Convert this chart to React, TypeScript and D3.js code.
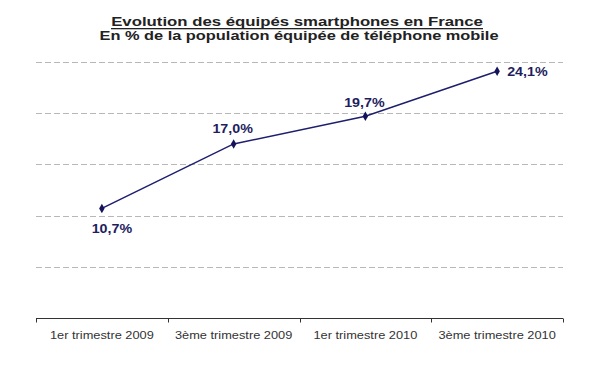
import React, { useEffect, useRef } from 'react';
import * as d3 from 'd3';

const categories = [
  '1er trimestre 2009',
  '3ème trimestre 2009',
  '1er trimestre 2010',
  '3ème trimestre 2010',
];
const values = [10.7, 17.0, 19.7, 24.1];
const valueLabels = ['10,7%', '17,0%', '19,7%', '24,1%'];
const gridTicks = [5, 10, 15, 20, 25];

const title = 'Evolution des équipés smartphones en France';
const subtitle = 'En % de la population équipée de téléphone mobile';

// where each value label sits relative to its point
const labelOffsets = [
  { dx: 10, dy: 25, anchor: 'middle' },
  { dx: -1, dy: -11, anchor: 'middle' },
  { dx: -1, dy: -9, anchor: 'middle' },
  { dx: 10, dy: 5, anchor: 'start' },
];

const FONT = 'Liberation Sans, Arial, sans-serif';

// the source picture is a bit wider than tall, so text is stretched sideways
function stretchedText(
  parent: d3.Selection<any, any, any, any>,
  x: number,
  y: number,
  str: string,
  opts: { size: number; sx: number; bold?: boolean; fill: string; anchor?: string }
) {
  const g = parent
    .append('g')
    .attr('transform', `translate(${x},${y}) scale(${opts.sx},1)`);
  return g
    .append('text')
    .attr('text-anchor', opts.anchor || 'middle')
    .attr('font-family', FONT)
    .attr('font-weight', opts.bold ? 'bold' : 'normal')
    .attr('font-size', opts.size)
    .attr('fill', opts.fill)
    .text(str);
}

const App: React.FC = () => {
  const ref = useRef<SVGSVGElement>(null);

  useEffect(() => {
    if (!ref.current) return;
    const width = 600;
    const height = 372;
    const svg = d3.select(ref.current);
    svg.selectAll('*').remove();
    svg.attr('width', width).attr('height', height);

    svg
      .append('rect')
      .attr('width', width)
      .attr('height', height)
      .attr('fill', '#ffffff');

    const x = d3.scaleBand().domain(categories).range([36, 563]).padding(0);
    const y = d3.scaleLinear().domain([0, 25]).range([318, 62]);

    // titles
    const tx = 297;
    stretchedText(svg, tx, 26, title, {
      size: 13,
      sx: 1.29,
      bold: true,
      fill: '#222',
    });
    // underline under the first title line
    svg
      .append('rect')
      .attr('x', 111)
      .attr('y', 28)
      .attr('width', 372)
      .attr('height', 1.3)
      .attr('fill', '#222');

    stretchedText(svg, 299, 40, subtitle, {
      size: 13,
      sx: 1.26,
      bold: true,
      fill: '#222',
    });

    // gridlines
    svg
      .append('g')
      .selectAll('line')
      .data(gridTicks)
      .join('line')
      .attr('x1', 36)
      .attr('x2', 563)
      .attr('y1', (d) => Math.round(y(d)) + 0.5)
      .attr('y2', (d) => Math.round(y(d)) + 0.5)
      .attr('stroke', '#b8b8b8')
      .attr('stroke-width', 1)
      .attr('stroke-dasharray', '6,3');

    // x axis
    const axis = svg.append('g');
    const y0 = Math.round(y(0)) + 0.5;
    axis
      .append('line')
      .attr('x1', 36)
      .attr('x2', 563)
      .attr('y1', y0)
      .attr('y2', y0)
      .attr('stroke', '#333')
      .attr('stroke-width', 1);
    const edges = categories.map((c) => x(c) as number).concat([563]);
    axis
      .selectAll('line.tick')
      .data(edges)
      .join('line')
      .attr('class', 'tick')
      .attr('x1', (d) => Math.round(d) + 0.5)
      .attr('x2', (d) => Math.round(d) + 0.5)
      .attr('y1', y0)
      .attr('y2', y0 + 4)
      .attr('stroke', '#333')
      .attr('stroke-width', 1);
    categories.forEach((c) => {
      stretchedText(axis, (x(c) as number) + x.bandwidth() / 2, 339, c, {
        size: 10.5,
        sx: 1.22,
        fill: '#333',
      });
    });

    // line
    const pts = values.map((v, i) => [
      (x(categories[i]) as number) + x.bandwidth() / 2,
      y(v),
    ]) as [number, number][];
    const line = d3.line();
    svg
      .append('path')
      .attr('d', line(pts))
      .attr('fill', 'none')
      .attr('stroke', '#1e1e6e')
      .attr('stroke-width', 1.5);

    const diamond = d3.symbol(d3.symbolDiamond, 26);
    svg
      .append('g')
      .selectAll('path')
      .data(pts)
      .join('path')
      .attr('d', diamond())
      .attr('transform', (d) => `translate(${d[0]},${d[1]})`)
      .attr('fill', '#14145a');

    const labels = svg.append('g');
    pts.forEach((p, i) => {
      const o = labelOffsets[i];
      stretchedText(labels, p[0] + o.dx, p[1] + o.dy, valueLabels[i], {
        size: 12,
        sx: 1.19,
        bold: true,
        fill: '#1e1e5e',
        anchor: o.anchor,
      });
    });
  }, []);

  return (
    <div style={{ position: 'absolute', top: 0, left: 0 }}>
      <svg ref={ref} style={{ display: 'block' }} />
    </div>
  );
};

export default App;
